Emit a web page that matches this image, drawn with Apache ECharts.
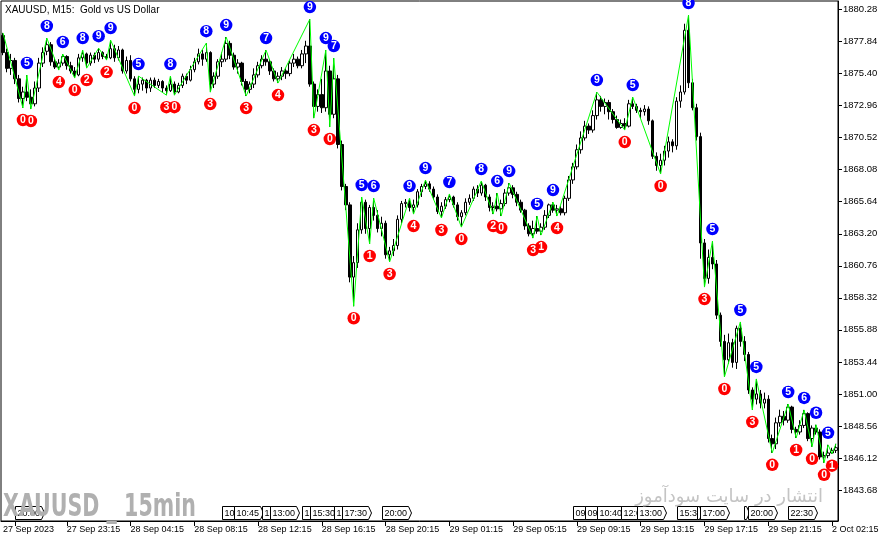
<!DOCTYPE html>
<html><head><meta charset="utf-8">
<script src="https://cdn.jsdelivr.net/npm/echarts@6/dist/echarts.min.js"></script>
<style>html,body{margin:0;padding:0;background:#fff}#c{width:892px;height:543px}</style>
</head><body><div id="c"></div>
<script>
const opens = [
1878.3,1877.0,1875.8,1876.4,1875.0,1873.5,1874.0,1873.6,1873.1,1874.3,
1876.2,1877.1,1877.6,1876.3,1875.9,1876.2,1876.7,1876.0,1875.6,1875.3,
1876.6,1876.9,1876.2,1876.8,1876.5,1877.0,1876.7,1876.6,1877.3,1876.6,
1877.2,1875.6,1876.4,1875.0,1874.2,1874.6,1874.9,1874.3,1874.9,1874.5,
1874.8,1874.3,1874.1,1874.6,1874.0,1874.5,1875.2,1874.9,1875.7,1876.3,
1876.9,1876.5,1877.0,1874.6,1875.2,1876.3,1876.5,1877.7,1876.8,1875.9,
1876.2,1874.8,1874.2,1874.6,1875.3,1876.0,1876.5,1876.3,1875.6,1875.0,
1875.2,1875.6,1875.4,1876.2,1876.5,1876.0,1876.9,1877.5,1874.6,1872.9,
1873.8,1872.8,1875.6,1872.3,1875.0,1870.0,1866.8,1865.4,1859.9,1861.0,
1863.5,1865.6,1863.6,1865.2,1864.6,1863.6,1864.0,1861.6,1861.9,1862.3,
1864.3,1865.5,1865.6,1865.2,1865.4,1866.4,1866.8,1867.0,1866.6,1866.0,
1864.9,1865.3,1865.8,1866.0,1865.4,1864.5,1864.8,1865.6,1865.9,1866.6,
1866.3,1866.9,1866.0,1865.2,1865.3,1865.1,1865.5,1866.3,1866.7,1866.2,
1865.6,1865.0,1863.8,1863.2,1863.6,1863.4,1863.7,1864.6,1865.4,1865.0,
1865.1,1864.8,1865.9,1867.3,1868.3,1869.6,1870.5,1871.4,1871.1,1872.2,
1873.4,1872.9,1873.2,1872.5,1871.9,1871.3,1871.6,1871.4,1873.1,1872.9,
1872.6,1872.5,1872.7,1871.8,1869.1,1868.4,1868.8,1869.5,1870.2,1869.9,
1873.3,1874.0,1878.7,1874.7,1872.8,1870.6,1862.5,1859.8,1861.4,1860.9,
1857.0,1855.0,1853.6,1854.9,1853.4,1856.0,1855.0,1854.0,1851.3,1850.6,
1851.0,1850.3,1850.6,1847.6,1847.2,1848.8,1849.3,1849.0,1850.0,1848.3,
1848.1,1848.6,1849.5,1847.6,1848.4,1848.1,1846.2,1846.3,1846.5,1846.7];
const closes = [
1877.0,1875.8,1876.4,1875.0,1873.5,1874.0,1873.6,1873.1,1874.3,1876.2,
1877.0,1877.6,1876.3,1875.9,1876.2,1876.7,1876.0,1875.6,1875.3,1876.6,
1876.9,1876.2,1876.8,1876.5,1877.0,1876.7,1876.6,1877.3,1876.6,1877.2,
1875.6,1876.4,1875.0,1874.2,1874.6,1874.9,1874.3,1874.9,1874.5,1874.8,
1874.3,1874.1,1874.6,1874.0,1874.5,1875.2,1874.9,1875.7,1876.3,1876.9,
1876.5,1877.0,1874.6,1875.2,1876.3,1876.5,1877.7,1876.8,1875.9,1876.2,
1874.8,1874.2,1874.6,1875.3,1876.0,1876.5,1876.3,1875.6,1875.0,1875.2,
1875.6,1875.4,1876.2,1876.5,1876.0,1876.9,1877.5,1874.6,1872.9,1873.8,
1872.8,1875.6,1872.3,1875.0,1870.0,1866.8,1865.4,1859.9,1861.0,1863.5,
1865.6,1863.6,1865.2,1864.6,1863.6,1864.0,1861.6,1861.9,1862.3,1864.3,
1865.5,1865.6,1865.2,1865.4,1866.4,1866.8,1867.0,1866.6,1866.0,1864.9,
1865.3,1865.8,1866.0,1865.4,1864.5,1864.8,1865.6,1865.9,1866.6,1866.3,
1866.9,1866.0,1865.2,1865.3,1865.1,1865.5,1866.3,1866.7,1866.2,1865.6,
1865.0,1863.8,1863.2,1863.6,1863.4,1863.7,1864.6,1865.4,1865.0,1865.1,
1864.8,1865.9,1867.3,1868.3,1869.6,1870.5,1871.4,1871.1,1872.2,1873.4,
1872.9,1873.2,1872.5,1871.9,1871.3,1871.6,1871.4,1873.1,1872.9,1872.6,
1872.5,1872.7,1871.8,1869.1,1868.4,1868.8,1869.5,1870.2,1869.9,1873.3,
1874.0,1878.7,1874.7,1872.8,1870.6,1862.5,1859.8,1861.4,1860.9,1857.0,
1855.0,1853.6,1854.9,1853.4,1856.0,1855.0,1854.0,1851.3,1850.6,1851.0,
1850.3,1850.6,1847.6,1847.2,1848.8,1849.3,1849.0,1850.0,1848.3,1848.1,
1848.6,1849.5,1847.6,1848.4,1848.1,1846.2,1846.3,1846.5,1846.7,1846.9];
const lows = [
1876.8,1875.5,1875.3,1874.6,1873.2,1872.78,1873.3,1872.70,1872.9,1874.0,
1875.9,1876.8,1876.0,1875.75,1875.67,1876.0,1875.7,1875.4,1875.06,1875.2,
1876.3,1875.82,1876.0,1876.2,1876.3,1876.5,1876.43,1876.5,1876.3,1876.4,
1875.4,1875.4,1874.8,1873.69,1873.9,1874.1,1873.9,1874.0,1874.3,1874.3,
1874.0,1873.76,1874.0,1873.76,1873.9,1874.3,1874.6,1874.8,1875.5,1876.1,
1876.0,1876.3,1873.99,1874.3,1875.0,1875.9,1876.3,1876.5,1875.7,1875.4,
1874.5,1873.69,1873.9,1874.3,1875.1,1875.8,1876.0,1875.3,1874.8,1874.68,
1874.9,1875.0,1875.2,1875.9,1875.8,1875.8,1876.2,1874.4,1872.01,1872.5,
1872.4,1872.5,1871.33,1872.0,1869.7,1866.5,1865.0,1859.5,1857.68,1860.6,
1863.2,1863.2,1862.42,1864.2,1863.3,1863.0,1861.3,1861.05,1861.5,1862.0,
1864.0,1865.2,1864.9,1864.7,1865.2,1866.0,1866.6,1866.4,1865.8,1864.7,
1864.40,1865.1,1865.6,1865.2,1864.2,1863.71,1864.6,1865.4,1865.7,1866.0,
1866.1,1865.7,1864.9,1864.70,1864.9,1864.55,1865.3,1866.1,1865.9,1865.3,
1864.8,1863.5,1863.0,1862.87,1863.2,1863.10,1863.5,1864.4,1864.8,1864.55,
1864.6,1864.6,1865.7,1867.0,1868.1,1869.3,1870.3,1870.8,1870.9,1871.9,
1872.5,1872.3,1871.9,1871.6,1871.2,1871.2,1871.10,1871.3,1872.7,1872.4,
1872.0,1872.2,1871.5,1868.9,1868.0,1867.75,1868.4,1869.0,1869.4,1869.6,
1872.8,1873.8,1874.3,1872.6,1870.3,1861.3,1859.14,1859.4,1860.5,1856.7,
1854.6,1852.29,1853.3,1853.0,1852.9,1854.6,1853.5,1851.0,1849.78,1850.2,
1849.9,1849.9,1847.3,1846.51,1846.8,1848.5,1848.6,1848.8,1848.0,1847.64,
1847.9,1848.4,1847.4,1846.97,1847.9,1846.0,1845.75,1846.1,1846.45,1846.5];
const highs = [
1878.5,1877.3,1876.9,1876.6,1875.3,1874.4,1875.29,1874.2,1874.8,1876.6,
1877.4,1878.11,1877.8,1876.6,1876.5,1876.89,1876.8,1876.3,1875.9,1876.9,
1877.19,1877.0,1877.0,1877.0,1877.34,1877.1,1876.9,1877.95,1877.6,1877.5,
1877.3,1876.7,1876.8,1875.2,1875.21,1875.1,1875.0,1875.1,1875.1,1875.0,
1874.9,1874.5,1875.21,1874.8,1874.7,1875.4,1875.4,1876.0,1876.6,1877.3,
1877.2,1877.72,1877.1,1875.5,1876.5,1877.0,1878.18,1877.9,1877.0,1876.5,
1876.3,1875.0,1874.8,1875.8,1876.3,1876.8,1877.19,1876.5,1875.8,1875.5,
1875.9,1875.8,1876.4,1876.9,1876.7,1877.2,1877.9,1879.55,1874.8,1874.2,
1875.0,1877.19,1876.0,1876.58,1875.3,1870.3,1867.0,1865.6,1861.5,1864.0,
1866.0,1865.8,1865.4,1865.92,1865.0,1864.5,1864.2,1862.2,1862.8,1864.6,
1865.7,1865.85,1865.92,1865.8,1866.6,1867.0,1867.29,1867.2,1866.8,1866.2,
1865.6,1866.0,1866.23,1866.1,1865.6,1865.0,1865.9,1866.2,1866.8,1866.9,
1867.22,1867.0,1866.2,1865.6,1866.30,1865.8,1866.6,1867.06,1866.9,1866.4,
1865.8,1865.1,1864.0,1864.2,1864.55,1864.0,1865.0,1865.5,1865.61,1865.4,
1865.3,1866.1,1867.6,1868.6,1870.0,1871.0,1871.8,1871.6,1872.6,1873.99,
1873.7,1873.5,1873.4,1872.7,1872.2,1871.9,1872.0,1873.4,1873.61,1873.1,
1872.8,1873.0,1872.9,1871.9,1869.4,1869.3,1869.9,1870.6,1870.4,1873.6,
1874.5,1879.2,1879.86,1875.0,1873.1,1870.9,1862.8,1862.0,1862.64,1861.2,
1857.2,1855.5,1855.6,1855.2,1856.2,1856.48,1855.4,1854.2,1851.5,1852.14,
1851.3,1851.1,1850.9,1847.9,1849.2,1849.8,1849.7,1850.23,1850.1,1848.5,
1849.0,1849.78,1849.6,1848.6,1848.65,1848.3,1846.6,1847.12,1846.9,1847.2];

// zigzag swing points (bar index) and their counters
const highIdx = [0,6,11,15,20,24,27,34,42,51,56,66,77,81,83,90,93,102,106,112,120,124,127,134,138,149,158,172,178,185,189,197,201,204,207,209];
const highLbl = ['','5','8','6','8','9','9','5','8','8','9','7','9','9','7','5','6','9','9','7','8','6','9','5','9','9','5','8','5','5','5','5','6','6','5',''];
const lowIdx = [5,7,14,18,21,26,33,41,43,52,61,69,78,82,88,92,97,103,110,115,123,125,133,135,139,156,165,176,181,188,193,199,203,206,208];
const lowLbl = ['0','0','4','0','2','2','0','3','0','3','3','4','3','0','0','1','3','4','3','0','2','0','3','1','4','0','0','3','0','3','0','1','0','0','1'];

// time axis: tick positions, label positions (first label is pushed inside the frame) and texts
const tickIdx = [3,16,32,48,64,80,96,112,128,144,160,176,192,208];
const labelIdx = [0,16,32,48,64,80,96,112,128,144,160,176,192,208];
const tickText = ['27 Sep 2023','27 Sep 23:15','28 Sep 04:15','28 Sep 08:15','28 Sep 12:15','28 Sep 16:15','28 Sep 20:15','29 Sep 01:15','29 Sep 05:15','29 Sep 09:15','29 Sep 13:15','29 Sep 17:15','29 Sep 21:15','2 Oct 02:15'];
const yTicks = [1843.68,1846.12,1848.56,1851.00,1853.44,1855.88,1858.32,1860.76,1863.20,1865.64,1868.08,1870.52,1872.96,1875.40,1877.84,1880.28];

// calendar event markers: [bar index, time]
const events = [[3,'20:00'],[55,'10:00'],[58,'10:45'],[65,'12:30'],[67,'13:00'],[75,'15:00'],[77,'15:30'],[83,'17:00'],[85,'17:30'],[95,'20:00'],
  [143,'09:00'],[146,'09:45'],[149,'10:40'],[155,'12:00'],[159,'13:00'],[169,'15:30'],[174,''],[175,'17:00'],[186,''],[187,'20:00'],[197,'22:30']];

const categories = [];
(function(){
  const pad = n => (n < 10 ? '0' : '') + n;
  let d = 27, mon = 'Sep', h = 19, m = 15;
  for (let i = 0; i < opens.length; i++) {
    categories.push(d + ' ' + mon + ' ' + pad(h) + ':' + pad(m));
    m += 15; if (m === 60) { m = 0; h++; }
    if (h === 24) { h = 1; m = 0; d++; if (d === 30) { d = 2; mon = 'Oct'; } }
  }
})();

const candleData = opens.map((o, i) => [o, closes[i], lows[i], highs[i]]);
const zz = new Array(opens.length).fill(null);
highIdx.forEach(i => zz[i] = highs[i]);
lowIdx.forEach(i => zz[i] = lows[i]);
const hiPts = highIdx.map((i, k) => [i, highs[i], highLbl[k]]).filter(p => p[2] !== '');
const loPts = lowIdx.map((i, k) => [i, lows[i], lowLbl[k]]);

const FONT = "'Liberation Sans', Arial, sans-serif";
const chart = echarts.init(document.getElementById('c'), null, {renderer: 'canvas'});
const tickSet = new Set(tickIdx);
const markLabel = {show: true, position: 'inside', formatter: p => p.data[2], color: '#fff', fontWeight: 'bold', fontSize: 10.5, fontFamily: FONT};

chart.setOption({
  animation: false,
  backgroundColor: '#ffffff',
  title: {text: 'XAUUSD, M15:  Gold vs US Dollar', left: 0, top: 0,
    textStyle: {fontSize: 10, fontWeight: 'normal', color: '#000', fontFamily: FONT}},
  grid: {left: 1, right: 54, top: 1, bottom: 22, show: true, borderColor: '#000', borderWidth: 1, backgroundColor: 'transparent'},
  xAxis: {
    type: 'category', data: categories, boundaryGap: true,
    axisLine: {lineStyle: {color: '#000', width: 1}},
    axisTick: {show: true, alignWithLabel: true, length: 5, lineStyle: {color: '#000'}, interval: (i) => tickSet.has(i)},
    axisLabel: {interval: 0, formatter: (v, i) => { const k = labelIdx.indexOf(i); return k < 0 ? '' : tickText[k]; },
      align: 'left', margin: 4, color: '#000', fontSize: 9, fontFamily: FONT, hideOverlap: false},
    splitLine: {show: false}
  },
  yAxis: {
    type: 'value', position: 'right', scale: true, min: 1841.32, max: 1880.93,
    axisLine: {show: true, lineStyle: {color: '#000', width: 1}},
    axisTick: {show: true, length: 4, lineStyle: {color: '#000'}, customValues: yTicks},
    axisLabel: {customValues: yTicks, formatter: v => v.toFixed(2), margin: 5, color: '#000', fontSize: 9.5, fontFamily: FONT},
    splitLine: {show: false}
  },
  series: [
    {type: 'candlestick', data: candleData, barWidth: 3, z: 2,
      itemStyle: {color: '#ffffff', color0: '#000000', borderColor: '#000000', borderColor0: '#000000', borderWidth: 1}},
    {type: 'line', data: zz, connectNulls: true, symbol: 'none', z: 4,
      lineStyle: {color: '#00ff00', width: 1}},
    {type: 'scatter', data: hiPts, symbol: 'circle', symbolSize: 12.5, symbolOffset: [0, -12], z: 5, clip: false,
      itemStyle: {color: '#0000ff', opacity: 1}, label: markLabel},
    {type: 'scatter', data: loPts, symbol: 'circle', symbolSize: 12.5, symbolOffset: [0, 12], z: 5, clip: false,
      itemStyle: {color: '#ff0000', opacity: 1}, label: markLabel}
  ]
});

// decorations: watermarks and calendar boxes
const els = [];
els.push({type: 'text', z: 1, x: 823, y: 497, style: {text: 'انتشار در سایت سودآموز', fill: '#c4c4c4', font: "18px 'DejaVu Sans'", align: 'right', verticalAlign: 'middle'}});
events.forEach(([idx, t], k) => {
  const x = Math.round(chart.convertToPixel({xAxisIndex: 0}, idx)) + 0.5;
  const w = t ? 26 : 2;
  const children = [{type: 'polygon', shape: {points: [[0, 0], [w, 0], [w + 3, 6.5], [w, 13], [0, 13]]},
    style: {fill: '#fff', stroke: '#000', lineWidth: 1}}];
  if (t) children.push({type: 'text', x: 2, y: 7, style: {text: t, fill: '#000', font: "9px 'Liberation Sans'", verticalAlign: 'middle'}});
  els.push({type: 'group', x: x, y: 506.5, z: 10 + k, children: children});
});
els.push({type: 'text', z: 60, x: 3, y: 492, scaleX: 0.88, scaleY: 1.22,
  style: {text: 'XAUUSD _ 15min', fill: '#b0b0b0', font: "bold 26px 'Liberation Sans Narrow', 'DejaVu Sans Condensed', sans-serif", verticalAlign: 'top'}});
chart.setOption({graphic: {elements: els}});
</script></body></html>
